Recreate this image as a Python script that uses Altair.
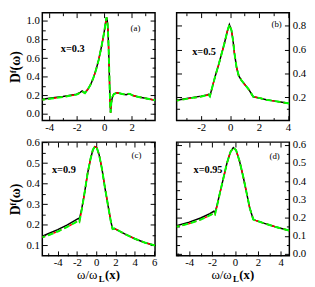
import altair as alt
import pandas as pd

SERIF = "Liberation Serif"

# ---------------- data ----------------
# panel (a)  x=0.3
omega_a = [-4.5, -4.0, -3.0, -2.0, -1.75, -1.6, -1.4, -1.2, -1.0, -0.8, -0.6, -0.4, -0.2, 0.0, 0.1, 0.17,
           0.22, 0.27, 0.32, 0.36, 0.4, 0.44, 0.47, 0.52, 0.6, 0.7, 0.9, 1.1, 1.4, 1.6, 1.8, 1.9, 2.1, 2.5, 3.0, 3.7]
black_a = [0.155, 0.165, 0.185, 0.21, 0.23, 0.245, 0.225, 0.26, 0.31, 0.38, 0.47, 0.58, 0.72, 0.88, 0.98, 1.04,
           1.01, 0.92, 0.72, 0.5, 0.28, 0.08, 0.01, 0.12, 0.18, 0.21, 0.225, 0.22, 0.21, 0.205, 0.215, 0.21, 0.195, 0.18, 0.165, 0.145]
dash_a = [0.15, 0.16, 0.18, 0.205, 0.225, 0.24, 0.22, 0.26, 0.31, 0.38, 0.47, 0.58, 0.72, 0.88, 0.98, 1.04,
          1.01, 0.92, 0.72, 0.5, 0.28, 0.08, 0.01, 0.12, 0.18, 0.21, 0.225, 0.22, 0.21, 0.205, 0.215, 0.21, 0.195, 0.18, 0.165, 0.145]

# panel (b)  x=0.5
omega_b = [-3.7, -3.0, -2.0, -1.6, -1.5, -1.4, -1.2, -1.0, -0.8, -0.6, -0.4, -0.2, -0.05, 0.1, 0.2, 0.3,
           0.45, 0.6, 0.8, 1.0, 1.3, 1.6, 2.0, 2.5, 3.0, 3.5, 4.1]
black_b = [0.175, 0.19, 0.21, 0.22, 0.225, 0.21, 0.30, 0.39, 0.47, 0.56, 0.65, 0.75, 0.81, 0.76, 0.68, 0.57,
           0.45, 0.38, 0.34, 0.31, 0.265, 0.205, 0.195, 0.18, 0.17, 0.16, 0.148]
dash_b = [0.172, 0.187, 0.207, 0.217, 0.222, 0.207, 0.30, 0.39, 0.47, 0.56, 0.65, 0.75, 0.81, 0.76, 0.68, 0.57,
          0.45, 0.38, 0.34, 0.31, 0.265, 0.205, 0.195, 0.18, 0.17, 0.16, 0.148]

# panel (c)  x=0.9
omega_c = [-5.6, -5.0, -4.0, -3.0, -2.2, -1.85, -1.75, -1.5, -1.2, -0.9, -0.6, -0.35, -0.15, 0.05, 0.3, 0.6,
           0.9, 1.2, 1.5, 1.7, 1.9, 2.2, 3.0, 4.0, 5.0, 6.1]
black_c = [0.145, 0.157, 0.177, 0.2, 0.222, 0.232, 0.228, 0.28, 0.36, 0.45, 0.52, 0.565, 0.58, 0.575, 0.54, 0.47,
           0.38, 0.30, 0.22, 0.18, 0.182, 0.175, 0.155, 0.133, 0.115, 0.1]
dash_c = [0.14, 0.15, 0.168, 0.191, 0.211, 0.221, 0.216, 0.275, 0.36, 0.45, 0.52, 0.565, 0.58, 0.575, 0.54, 0.47,
          0.38, 0.30, 0.22, 0.18, 0.182, 0.175, 0.155, 0.133, 0.115, 0.1]

# panel (d)  x=0.95
omega_d = [-5.1, -4.0, -3.0, -2.2, -1.85, -1.75, -1.6, -1.3, -1.0, -0.7, -0.4, -0.15, 0.1, 0.4, 0.7, 1.0,
           1.3, 1.6, 1.8, 2.5, 3.5, 4.8]
black_d = [0.155, 0.175, 0.198, 0.222, 0.235, 0.228, 0.26, 0.34, 0.42, 0.5, 0.56, 0.585, 0.57, 0.51, 0.43, 0.34,
           0.25, 0.19, 0.185, 0.17, 0.15, 0.128]
dash_d = [0.15, 0.167, 0.189, 0.212, 0.224, 0.218, 0.255, 0.34, 0.42, 0.5, 0.56, 0.585, 0.57, 0.51, 0.43, 0.34,
          0.25, 0.19, 0.185, 0.17, 0.15, 0.128]

panel_tags = ["(a)", "(b)", "(c)", "(d)"]
doping_labels = ["x=0.3", "x=0.5", "x=0.9", "x=0.95"]

x_domains = [[-4.5, 3.7], [-3.7, 4.1], [-5.6, 6.1], [-5.1, 4.75]]
y_domains = [[-0.075, 1.09], [0.005, 0.91], [0.05, 0.602], [-0.01, 0.615]]

x_major = [[-4, -2, 0, 2], [-2, 0, 2, 4], [-4, -2, 0, 2, 4, 6], [-4, -2, 0, 2, 4]]
x_minor = [[-3, -1, 1, 3], [-3, -1, 1, 3], [-5, -3, -1, 1, 3, 5], [-5, -3, -1, 1, 3]]
y_major = [[0, 0.2, 0.4, 0.6, 0.8, 1.0], [0.2, 0.4, 0.6, 0.8], [0.1, 0.2, 0.3, 0.4, 0.5, 0.6],
           [0, 0.1, 0.2, 0.3, 0.4, 0.5, 0.6]]
y_minor = [[0.1, 0.3, 0.5, 0.7, 0.9], [0.1, 0.3, 0.5, 0.7], [0.15, 0.25, 0.35, 0.45, 0.55],
           [0.05, 0.15, 0.25, 0.35, 0.45, 0.55]]

y_title = "Dᶠ(ω)"
x_title_parts = ["ω/ω", "L", "(x)"]

W = 115
H_TOP = 110
H_BOT = 116

OPP = {"left": "right", "right": "left", "bottom": "top", "top": "bottom"}


def tick_axis(orient, vals, size):
    return alt.Axis(orient=orient, values=vals, offset=-size, tickSize=size, ticks=True, labels=False,
                    domain=False, grid=False, title=None, tickColor="black", tickWidth=1)


def panel(i, omega, black, dashed, side, h, show_ytitle, show_xtitle):
    xs = alt.Scale(domain=x_domains[i], nice=False, zero=False)
    ys = alt.Scale(domain=y_domains[i], nice=False, zero=False)
    df_k = pd.DataFrame({"omega": omega, "D": black})
    df_d = pd.DataFrame({"omega": omega, "D": dashed})

    yaxis_kw = dict(orient=side, values=y_major[i], ticks=False, tickSize=0, domain=False, grid=False,
                    labelFont=SERIF, labelFontSize=11, labelColor="black", labelPadding=3)
    if show_ytitle:
        yaxis_kw.update(title=y_title, titleFont=SERIF, titleFontSize=14, titleFontWeight="bold",
                        titleColor="black", titlePadding=3)
    else:
        yaxis_kw.update(title=None)
    lab_y = alt.Axis(**yaxis_kw)
    lab_x = alt.Axis(orient="bottom", values=x_major[i], ticks=False, tickSize=0, domain=False, grid=False,
                     labelFont=SERIF, labelFontSize=11, labelColor="black", labelPadding=1,
                     labelFlush=False, labelOverlap=False, title=None,
                     labelExpr="replace(datum.label, '\u2212', '-')")

    def layer(df, xaxis, yaxis, **mk):
        return alt.Chart(df).mark_line(clip=True, **mk).encode(
            x=alt.X("omega:Q", scale=xs, axis=xaxis),
            y=alt.Y("D:Q", scale=ys, axis=yaxis),
        )

    layers = [
        layer(df_k, lab_x, lab_y, color="black", strokeWidth=1.5),
        layer(df_d, tick_axis("bottom", x_major[i], 5), tick_axis(side, y_major[i], 5),
              color="#ff0000", strokeWidth=1.5, strokeDash=[3, 3]),
        layer(df_d, tick_axis("top", x_major[i], 5), tick_axis(OPP[side], y_major[i], 5),
              color="#00ff00", strokeWidth=2, strokeDash=[6, 3], strokeDashOffset=3),
        layer(df_d, tick_axis("bottom", x_minor[i], 3), tick_axis(side, y_minor[i], 3), opacity=0),
        layer(df_d, tick_axis("top", x_minor[i], 3), tick_axis(OPP[side], y_minor[i], 3), opacity=0),
    ]

    tag_pos = [(95, 16), (102, 12), (96, 13), (100, 14)][i]
    dop_pos = [(31, 37), (28, 40), (22, 28), (32, 28)][i]
    layers.append(
        alt.Chart(pd.DataFrame({"t": [panel_tags[i]]})).mark_text(
            font=SERIF, fontSize=9, color="black", align="center", baseline="middle"
        ).encode(x=alt.value(tag_pos[0]), y=alt.value(tag_pos[1]), text="t:N")
    )
    layers.append(
        alt.Chart(pd.DataFrame({"t": [doping_labels[i]]})).mark_text(
            font=SERIF, fontSize=10.5, fontWeight="bold", color="black", align="center", baseline="middle"
        ).encode(x=alt.value(dop_pos[0]), y=alt.value(dop_pos[1]), text="t:N")
    )
    if show_xtitle:
        x0 = W / 2 - 22
        pieces = [(x_title_parts[0], x0, h + 24, 13, "normal"),
                  (x_title_parts[1], x0 + 22, h + 27, 9, "bold"),
                  (x_title_parts[2], x0 + 28.5, h + 24, 13, "bold")]
        for txt, px, py, fs, fw in pieces:
            layers.append(
                alt.Chart(pd.DataFrame({"t": [txt]})).mark_text(
                    font=SERIF, fontSize=fs, fontWeight=fw, color="black", align="left", baseline="alphabetic"
                ).encode(x=alt.value(px), y=alt.value(py), text="t:N")
            )

    return alt.layer(*layers).resolve_axis(x="independent", y="independent").properties(width=W, height=h)


pa = panel(0, omega_a, black_a, dash_a, "left", H_TOP, True, False)
pb = panel(1, omega_b, black_b, dash_b, "right", H_TOP, False, False)
pc = panel(2, omega_c, black_c, dash_c, "left", H_BOT, True, True)
pd_ = panel(3, omega_d, black_d, dash_d, "right", H_BOT, False, True)

chart = alt.concat(
    pa, pb, pc, pd_, columns=2, spacing=22, bounds="flush", align="each",
).properties(padding=0, background="white").configure_view(stroke="black", strokeWidth=1.5)

chart.save("out.html", embed_options={"renderer": "svg", "actions": False})
